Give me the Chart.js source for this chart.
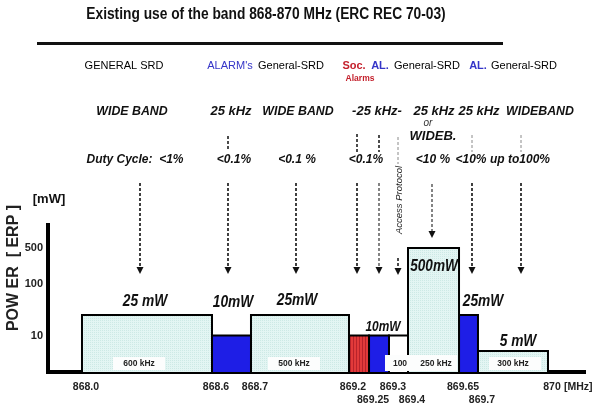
<!DOCTYPE html>
<html>
<head>
<meta charset="utf-8">
<title>Existing use of the band 868-870 MHz</title>
<script src="https://cdn.jsdelivr.net/npm/chart.js@4/dist/chart.umd.min.js"></script>
<style>
  body { margin: 0; background: #fff; }
  #wrap { width: 599px; height: 414px; position: relative; }
</style>
</head>
<body>
<div id="wrap"><canvas id="bandChart"></canvas></div>
<script>
// ========================================
// DATA
// ========================================
const bandStart = [868.0, 868.6, 868.7, 869.2, 869.25, 869.3, 869.4, 869.65, 869.7];
const bandEnd   = [868.6, 868.7, 869.2, 869.25, 869.3, 869.4, 869.65, 869.7, 870.0];
const bandPower = [25, 10, 25, 10, 10, 10, 500, 25, 5];          // mW ERP
const bandKind  = ['general', 'alarm', 'general', 'social', 'alarm', 'access', 'general', 'alarm', 'general'];

const freqTicks      = [868.0, 868.6, 868.7, 869.2, 869.25, 869.3, 869.4, 869.65, 869.7, 870.0];
const freqTickLabels = ['868.0', '868.6', '868.7', '869.2', '869.25', '869.3', '869.4', '869.65', '869.7', '870'];
const freqTickRow    = [0, 0, 0, 0, 1, 0, 1, 0, 1, 0];

const powerTicks = [10, 100, 500];

const Y_MIN = 1.955;
const Y_MAX = 1398;
const FONT = 'Arial, "Liberation Sans", sans-serif';

// the original frequency axis is drawn "not to scale":
// piecewise linear warp (frequency -> fraction of axis length)
const warpFreq = [867.8, 868.0, 868.6, 868.7, 869.2, 869.25, 869.3, 869.4, 869.65, 869.7, 870.0, 870.2];
const warpFrac = [0, 0.0633, 0.3054, 0.3780, 0.5605, 0.5978, 0.6350, 0.6704, 0.7654, 0.8007, 0.9311, 1];

// ========================================
// PIECEWISE FREQUENCY SCALE
// ========================================
class PiecewiseScale extends Chart.LinearScale {
    getPixelForValue(value) {
        if (value === null || value === undefined || isNaN(value)) return NaN;
        const f = this.options.knotValues;
        const p = this.options.knotFractions;
        let i = 0;
        while (i < f.length - 2 && value > f[i + 1]) i++;
        const t = (value - f[i]) / (f[i + 1] - f[i]);
        return this.getPixelForDecimal(p[i] + t * (p[i + 1] - p[i]));
    }
    getValueForPixel(pixel) {
        const d = this.getDecimalForPixel(pixel);
        const f = this.options.knotValues;
        const p = this.options.knotFractions;
        let i = 0;
        while (i < p.length - 2 && d > p[i + 1]) i++;
        const t = (d - p[i]) / (p[i + 1] - p[i]);
        return f[i] + t * (f[i + 1] - f[i]);
    }
}
PiecewiseScale.id = 'piecewise';
PiecewiseScale.defaults = Chart.LinearScale.defaults;
Chart.register(PiecewiseScale);

// ========================================
// FILL PATTERNS
// ========================================
function makePattern(w, h, draw) {
    const c = document.createElement('canvas');
    c.width = w;
    c.height = h;
    const g = c.getContext('2d');
    draw(g);
    return g.createPattern(c, 'repeat');
}

const cyanFill = makePattern(2, 2, g => {
    g.fillStyle = '#e3f5f3';
    g.fillRect(0, 0, 2, 2);
    g.fillStyle = '#cde9e5';
    g.fillRect(0, 0, 1, 1);
});

const redFill = makePattern(3, 1, g => {
    g.fillStyle = '#e23a3a';
    g.fillRect(0, 0, 3, 1);
    g.fillStyle = '#b8232b';
    g.fillRect(2, 0, 1, 1);
});

const kindFill = {
    general: cyanFill,
    alarm: '#1e1ee6',
    social: redFill,
    access: '#ffffff'
};

// ========================================
// ANNOTATIONS (text, arrows)
// ========================================
function txt(ctx, s, x, y, font, color, squeeze) {
    ctx.save();
    ctx.translate(x, y);
    if (squeeze) ctx.scale(squeeze, 1);
    ctx.font = font;
    ctx.fillStyle = color || '#111';
    ctx.textAlign = 'center';
    ctx.textBaseline = 'middle';
    ctx.fillText(s, 0, 0);
    ctx.restore();
}

function dashed(ctx, x, y1, y2, color, width) {
    ctx.save();
    ctx.strokeStyle = color;
    ctx.lineWidth = width;
    ctx.setLineDash([3, 2]);
    ctx.beginPath();
    ctx.moveTo(x, y1);
    ctx.lineTo(x, y2);
    ctx.stroke();
    ctx.restore();
}

function arrowHead(ctx, x, tip) {
    ctx.fillStyle = '#111';
    ctx.beginPath();
    ctx.moveTo(x - 3.5, tip - 7);
    ctx.lineTo(x + 3.5, tip - 7);
    ctx.lineTo(x, tip);
    ctx.closePath();
    ctx.fill();
}

const notesPlugin = {
    id: 'bandNotes',
    afterDatasetsDraw(chart) {
        const ctx = chart.ctx;
        ctx.save();

        // white kHz boxes inside the bands
        ctx.fillStyle = '#fcfdfd';
        ctx.fillRect(113, 357, 52, 13);
        ctx.fillRect(268, 357, 52, 13);
        ctx.fillRect(385, 355, 72, 16);
        ctx.fillRect(489, 357, 52, 13);
        const small = 'bold 8.5px ' + FONT;
        txt(ctx, '600 kHz', 139, 364, small, '#222');
        txt(ctx, '500 kHz', 294, 364, small, '#222');
        txt(ctx, '100', 400, 364, small, '#222');
        txt(ctx, '250 kHz', 436, 364, small, '#222');
        txt(ctx, '300 kHz', 513, 364, small, '#222');

        // power labels over the bands
        const big = 'italic bold 16px ' + FONT;
        txt(ctx, '25 mW', 145, 302, big, '#111', 0.86);
        txt(ctx, '10mW', 233, 303, big, '#111', 0.86);
        txt(ctx, '25mW', 297, 301, big, '#111', 0.86);
        txt(ctx, '10mW', 383, 327, 'italic bold 14px ' + FONT, '#111', 0.85);
        txt(ctx, '500mW', 434, 267, big, '#111', 0.85);
        txt(ctx, '25mW', 483, 302, big, '#111', 0.86);
        txt(ctx, '5 mW', 518, 342, big, '#111', 0.86);
        ctx.restore();
    },
    afterDraw(chart) {
        const ctx = chart.ctx;
        ctx.save();

        // title (narrow face) and rule
        txt(ctx, 'Existing use of the band 868-870 MHz (ERC REC 70-03)', 266, 15, 'bold 16px ' + FONT, '#111', 0.86);
        ctx.fillStyle = '#111';
        ctx.fillRect(37, 42, 466, 3);

        // row 1: applications
        const r1 = '11px ' + FONT;
        const r1b = 'bold 11px ' + FONT;
        const blue = '#3535c8';
        const red = '#c4202c';
        txt(ctx, 'GENERAL SRD', 124, 66, r1, '#000');
        txt(ctx, "ALARM's", 230, 66, r1, blue);
        txt(ctx, 'General-SRD', 291, 66, r1, '#000');
        txt(ctx, 'Soc.', 354, 66, r1b, red);
        txt(ctx, 'AL.', 380, 66, r1b, blue);
        txt(ctx, 'General-SRD', 427, 66, r1, '#000');
        txt(ctx, 'AL.', 478, 66, r1b, blue);
        txt(ctx, 'General-SRD', 524, 66, r1, '#000');
        txt(ctx, 'Alarms', 360, 79, 'bold 8.5px ' + FONT, red);

        // row 2: channel width
        const r2 = 'italic bold 13px ' + FONT;
        txt(ctx, 'WIDE BAND', 132, 111, r2, '#111', 0.95);
        txt(ctx, '25 kHz', 231, 111, r2);
        txt(ctx, 'WIDE BAND', 298, 111, r2, '#111', 0.95);
        txt(ctx, '-25 kHz-', 377, 111, r2);
        txt(ctx, '25 kHz', 434, 111, r2);
        txt(ctx, '25 kHz', 479, 111, r2);
        txt(ctx, 'WIDEBAND', 540, 111, r2, '#111', 0.95);
        txt(ctx, 'or', 428, 123, 'italic 10px ' + FONT, '#333');
        txt(ctx, 'WIDEB.', 433, 136, r2);

        // row 3: duty cycle
        const r3 = 'italic bold 12px ' + FONT;
        txt(ctx, 'Duty Cycle:  <1%', 135, 160, r3);
        txt(ctx, '<0.1%', 234, 160, r3);
        txt(ctx, '<0.1 %', 297, 160, r3);
        txt(ctx, '<0.1%', 366, 160, r3);
        txt(ctx, '<10 %', 433, 160, r3);
        txt(ctx, '<10%', 471, 160, r3);
        txt(ctx, 'up to100%', 520, 160, r3);

        // dashed arrows
        const dark = '#111';
        const grey = '#8a8a8a';
        dashed(ctx, 228, 136, 151, dark, 1.5);
        dashed(ctx, 357, 134, 152, dark, 1.5);
        dashed(ctx, 379, 135, 152, dark, 1.5);
        dashed(ctx, 398, 137, 164, grey, 1);
        dashed(ctx, 472, 135, 152, grey, 1);
        dashed(ctx, 521, 135, 152, grey, 1);

        [140, 228, 296, 357, 472, 521].forEach(x => {
            dashed(ctx, x, 183, 267, dark, 1.6);
            arrowHead(ctx, x, 274);
        });
        dashed(ctx, 379, 183, 267, '#333', 1.2);
        arrowHead(ctx, 379, 274);
        dashed(ctx, 432, 184, 231, '#333', 1.2);
        arrowHead(ctx, 432, 238);
        dashed(ctx, 398, 258, 268, dark, 1.5);
        arrowHead(ctx, 398, 275);

        // rotated access protocol note
        ctx.save();
        ctx.translate(399, 200);
        ctx.rotate(-Math.PI / 2);
        txt(ctx, 'Access Protocol', 0, 0, 'italic 9.5px ' + FONT, '#222');
        ctx.restore();

        // y axis title
        txt(ctx, '[mW]', 49, 199, 'bold 13px ' + FONT, '#111');
        ctx.save();
        ctx.translate(14, 268);
        ctx.rotate(-Math.PI / 2);
        txt(ctx, 'POW ER  [ ERP ]', 0, 0, 'bold 16px ' + FONT, '#222');
        ctx.restore();

        // unit after the last frequency tick
        const xs = chart.scales.x;
        ctx.font = 'bold 10.5px ' + FONT;
        ctx.fillStyle = '#222';
        ctx.textAlign = 'left';
        ctx.textBaseline = 'middle';
        ctx.fillText('[MHz]', xs.getPixelForValue(870.0) + 16, 387);

        ctx.restore();
    }
};

// ========================================
// BUILD CHART
// ========================================
const datasets = bandStart.map((s, i) => ({
    label: bandKind[i],
    data: [
        { x: s, y: Y_MIN },
        { x: s, y: bandPower[i] },
        { x: bandEnd[i], y: bandPower[i] },
        { x: bandEnd[i], y: Y_MIN }
    ],
    borderColor: '#000',
    borderWidth: 2,
    borderJoinStyle: 'miter',
    backgroundColor: kindFill[bandKind[i]],
    fill: 'start',
    pointRadius: 0,
    tension: 0
}));

const ctx = document.getElementById('bandChart').getContext('2d');
new Chart(ctx, {
    type: 'line',
    data: { datasets: datasets },
    options: {
        responsive: true,
        maintainAspectRatio: false,
        animation: false,
        layout: { padding: { top: 225, right: 14, left: 0, bottom: 0 } },
        plugins: {
            legend: { display: false },
            tooltip: { enabled: false }
        },
        scales: {
            x: {
                type: 'piecewise',
                min: warpFreq[0],
                max: warpFreq[warpFreq.length - 1],
                knotValues: warpFreq,
                knotFractions: warpFrac,
                z: 1,
                grid: { display: false, drawTicks: false },
                border: { display: true, width: 4, color: '#000' },
                afterBuildTicks: function(scale) {
                    scale.ticks = freqTicks.map(v => ({ value: v }));
                },
                afterFit: function(scale) {
                    scale.height = 42;
                },
                ticks: {
                    autoSkip: false,
                    maxRotation: 0,
                    padding: 8.5,
                    labelOffset: 4,
                    color: '#222',
                    font: { family: FONT, size: 10.5, weight: 'bold', lineHeight: 1.24 },
                    callback: function(value, index) {
                        return freqTickRow[index] ? ['', freqTickLabels[index]] : [freqTickLabels[index]];
                    }
                }
            },
            y: {
                type: 'logarithmic',
                min: Y_MIN,
                max: Y_MAX,
                z: 1,
                grid: { display: false, drawTicks: false },
                border: { display: true, width: 4, color: '#000' },
                afterBuildTicks: function(scale) {
                    scale.ticks = powerTicks.map(v => ({ value: v }));
                },
                afterFit: function(scale) {
                    scale.width = 48;
                },
                ticks: {
                    padding: 5,
                    color: '#222',
                    font: { family: FONT, size: 11, weight: 'bold' },
                    callback: function(value) {
                        return String(value);
                    }
                }
            }
        }
    },
    plugins: [notesPlugin]
});
</script>
</body>
</html>
